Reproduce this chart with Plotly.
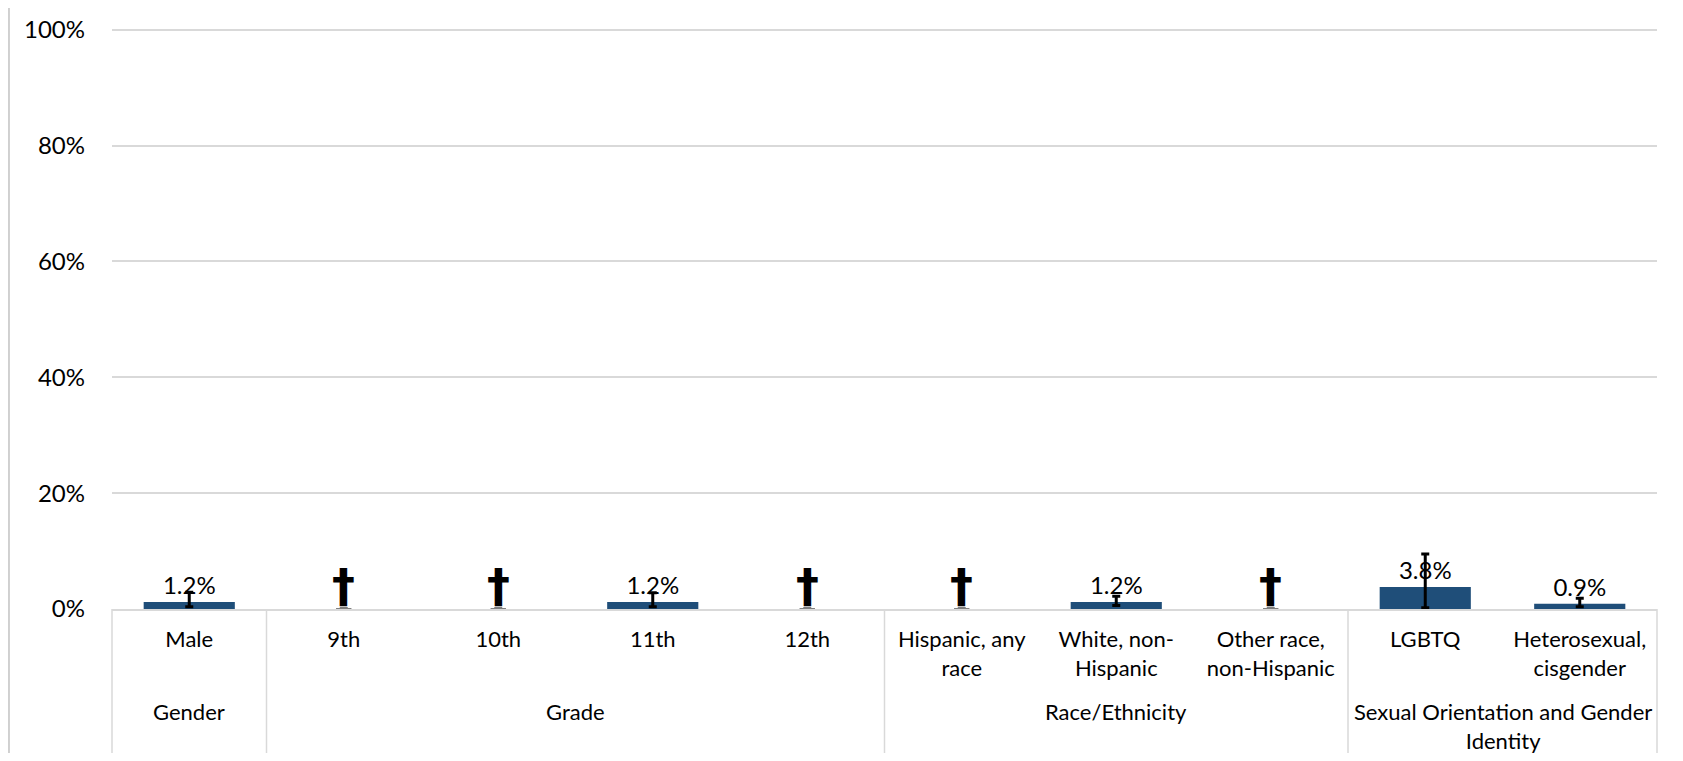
import plotly.graph_objects as go

# ---- data ----
categories = ["Male", "9th", "10th", "11th", "12th",
              "Hispanic, any<br>race", "White, non-<br>Hispanic", "Other race,<br>non-Hispanic",
              "LGBTQ", "Heterosexual,<br>cisgender"]
groups = ["Gender", "Grade", "Grade", "Grade", "Grade",
          "Race/Ethnicity", "Race/Ethnicity", "Race/Ethnicity",
          "Sexual Orientation and Gender<br>Identity", "Sexual Orientation and Gender<br>Identity"]
values = [1.2, None, None, 1.2, None, None, 1.2, None, 3.8, 0.9]
err_plus = [1.7, 0, 0, 1.6, 0, 0, 1.0, 0, 5.7, 0.95]
err_minus = [0.8, 0, 0, 0.8, 0, 0, 0.6, 0, 3.6, 0.5]
suppressed = [False, True, True, False, True, True, False, True, False, False]
y_ticks = [0, 20, 40, 60, 80, 100]

BAR = "#1F4E79"
GRID = "#D9D9D9"
FONT = "Lato"

fig = go.Figure()

bar_vals = [v if v is not None else 0 for v in values]
bar_text = [f"{v:.1f}%" if v is not None else "" for v in values]

fig.add_trace(go.Bar(
    x=categories, y=bar_vals,
    marker=dict(color=BAR, line=dict(width=0)),
    text=bar_text, textposition="outside", cliponaxis=False,
    textfont=dict(family=FONT, size=24, color="#000000"),
    error_y=dict(type="data", symmetric=False,
                 array=[p if not s else None for p, s in zip(err_plus, suppressed)],
                 arrayminus=[m if not s else None for m, s in zip(err_minus, suppressed)],
                 color="#000000", thickness=3, width=4),
    hoverinfo="skip", showlegend=False,
))

# suppressed estimates: small grey marker at zero
sx = [c for c, s in zip(categories, suppressed) if s]
fig.add_trace(go.Scatter(
    x=sx, y=[0] * len(sx), mode="markers",
    marker=dict(symbol="line-ew", size=11, line=dict(color="#7F7F7F", width=2)),
    cliponaxis=False, hoverinfo="skip", showlegend=False,
))

n = len(categories)
shapes = []
annotations = []

# dagger marks for suppressed estimates
for c in sx:
    annotations.append(dict(x=c, xref="x", y=0, yref="y", yanchor="bottom",
                            yshift=-6, text="<b>†</b>", showarrow=False,
                            font=dict(family="DejaVu Sans", size=46, color="#000000")))

# group dividers and group labels
bounds = [0]
for i in range(1, n):
    if groups[i] != groups[i - 1]:
        bounds.append(i)
bounds.append(n)
for b in bounds:
    shapes.append(dict(type="line", xref="paper", yref="paper",
                       x0=b / n, x1=b / n, y0=0, y1=-0.3,
                       line=dict(color=GRID, width=1.5)))
for a, b in zip(bounds[:-1], bounds[1:]):
    annotations.append(dict(x=(a + b - 1) / 2, xref="x", y=-0.150, yref="paper",
                            text=groups[a], showarrow=False, yanchor="top",
                            font=dict(family=FONT, size=22, color="#000000")))

# chart border lines
for px in [-0.0667, 1.0136]:
    shapes.append(dict(type="line", xref="paper", yref="paper",
                       x0=px, x1=px, y0=-0.3, y1=1.1,
                       line=dict(color="#D0D0D0", width=2)))

fig.update_layout(
    width=1675, height=745,
    margin=dict(l=104, r=26, t=20, b=144),
    paper_bgcolor="white", plot_bgcolor="white",
    bargap=0.41,
    shapes=shapes, annotations=annotations,
    font=dict(family=FONT, color="#000000"),
    xaxis=dict(type="category", range=[-0.5, n - 0.5], showgrid=False,
               showline=True, linecolor=GRID, linewidth=1.5, automargin=False,
               ticks="", tickfont=dict(family=FONT, size=22, color="#000000"),
               tickangle=0, ticklabelstandoff=10),
    yaxis=dict(range=[0, 100.3], tickvals=y_ticks, ticktext=[f"{t}%" for t in y_ticks],
               showgrid=True, gridcolor=GRID, gridwidth=1.5, zeroline=False,
               showline=False, ticks="", automargin=False,
               tickfont=dict(family=FONT, size=24, color="#000000"),
               ticklabelstandoff=26),
)

fig.write_html("out.html")
